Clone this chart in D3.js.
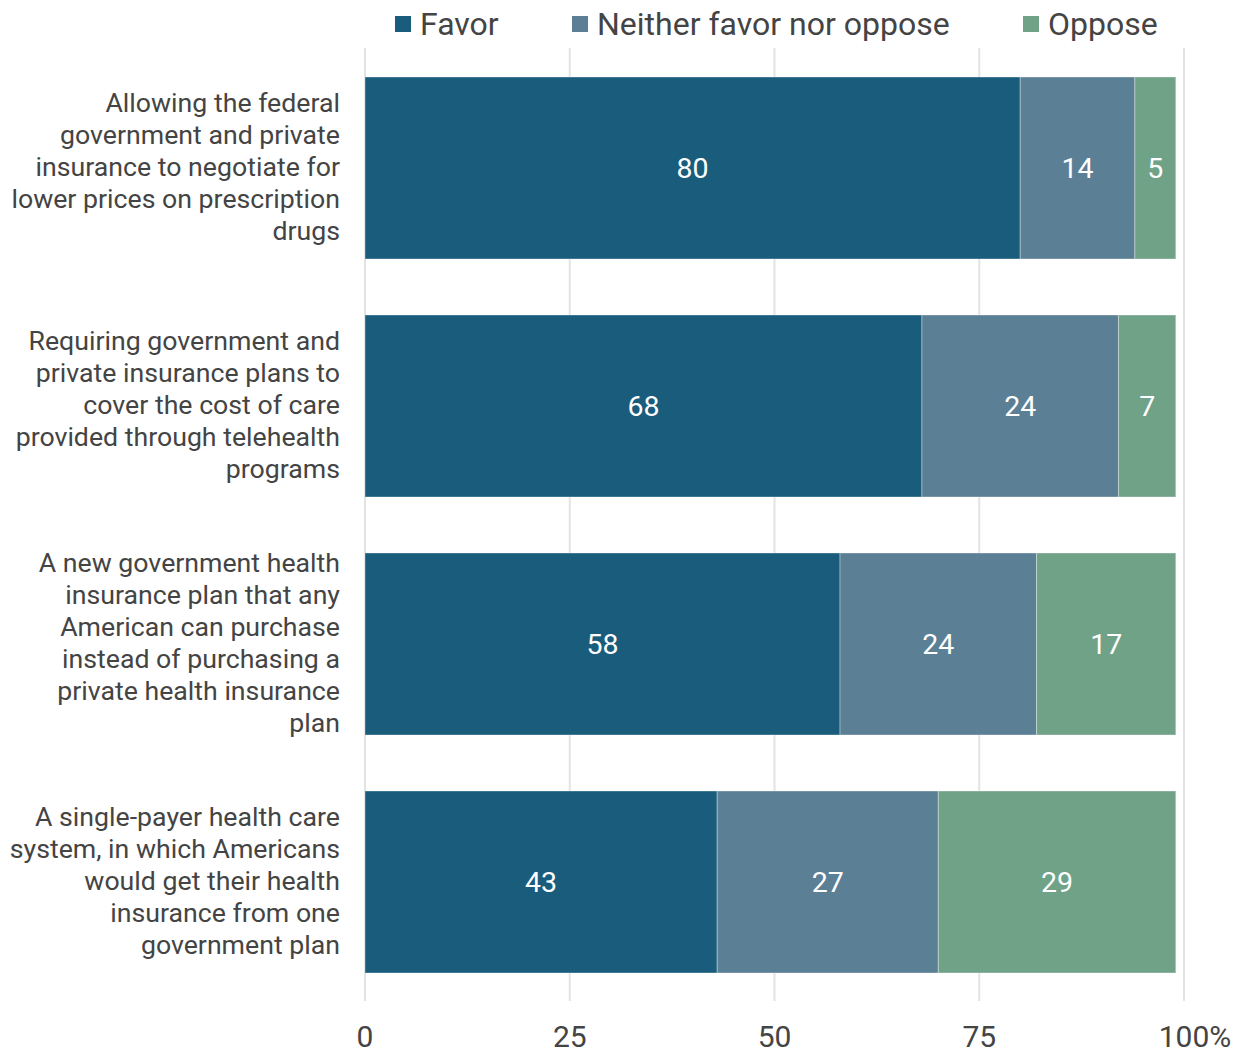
<!DOCTYPE html>
<html>
<head>
<meta charset="utf-8">
<script src="https://cdn.jsdelivr.net/npm/d3@7"></script>
<style>
  html, body { margin: 0; padding: 0; background: #fff; }
  svg { display: block; font-family: Roboto, "Noto Sans", sans-serif; }
</style>
</head>
<body>
<svg id="chart" width="1239" height="1053"></svg>
<script>
// Survey items, each as wrapped lines of its label
const categories = [
  ["Allowing the federal", "government and private", "insurance to negotiate for", "lower prices on prescription", "drugs"],
  ["Requiring government and", "private insurance plans to", "cover the cost of care", "provided through telehealth", "programs"],
  ["A new government health", "insurance plan that any", "American can purchase", "instead of purchasing a", "private health insurance", "plan"],
  ["A single-payer health care", "system, in which Americans", "would get their health", "insurance from one", "government plan"]
];
const seriesNames = ["Favor", "Neither favor nor oppose", "Oppose"];
const favor   = [80, 68, 58, 43];
const neither = [14, 24, 24, 27];
const oppose  = [5, 7, 17, 29];
const tickValues = [0, 25, 50, 75, 100];

const colors = ["#1a5c7c", "#5b7f95", "#70a287"];

const svg = d3.select("#chart");

const plotTop = 49, plotBottom = 1001;
const x = d3.scaleLinear().domain([0, 100]).range([365, 1184]);
const y = d3.scaleBand()
  .domain(d3.range(categories.length))
  .range([plotTop, plotBottom])
  .paddingInner(0.2353)
  .paddingOuter(0.11765);

// Gridlines
svg.append("g").selectAll("line")
  .data(tickValues)
  .join("line")
  .attr("x1", d => x(d)).attr("x2", d => x(d))
  .attr("y1", plotTop - 1).attr("y2", plotBottom)
  .attr("stroke", "#e3e3e3")
  .attr("stroke-width", 2);

// Stacked bars
const rows = categories.map((c, i) => ({ i, Favor: favor[i], "Neither favor nor oppose": neither[i], Oppose: oppose[i] }));
const stack = d3.stack().keys(seriesNames)(rows);
const bandCenter = i => y(i) + y.bandwidth() / 2;

stack.forEach((layer, k) => {
  const g = svg.append("g");
  g.selectAll("rect")
    .data(layer)
    .join("rect")
    .attr("x", d => x(d[0]))
    .attr("width", d => x(d[1]) - x(d[0]))
    .attr("y", d => y(d.data.i))
    .attr("height", y.bandwidth())
    .attr("fill", colors[k])
    .attr("stroke", "#ffffff")
    .attr("stroke-opacity", 0.35)
    .attr("stroke-width", 1);
  g.selectAll("text")
    .data(layer)
    .join("text")
    .attr("x", d => (x(d[0]) + x(d[1])) / 2)
    .attr("y", d => bandCenter(d.data.i))
    .attr("dy", "0.36em")
    .attr("text-anchor", "middle")
    .attr("fill", "#ffffff")
    .attr("font-size", 28.5)
    .text(d => d[1] - d[0]);
});

// Category labels, right-aligned to the left of the bars
const lineH = 32;
categories.forEach((lines, i) => {
  const cy = bandCenter(i) - 1;
  const t = svg.append("text")
    .attr("text-anchor", "end")
    .attr("fill", "#444")
    .attr("font-size", 26.7);
  lines.forEach((ln, j) => {
    t.append("tspan")
      .attr("x", 340)
      .attr("y", cy + (j - (lines.length - 1) / 2) * lineH)
      .attr("dy", "0.33em")
      .text(ln);
  });
});

// X axis tick labels; the percent sign trails the last number
const axis = svg.append("g");
tickValues.forEach((v, i) => {
  const t = axis.append("text")
    .attr("x", x(v))
    .attr("y", 1036)
    .attr("dy", "0.36em")
    .attr("text-anchor", "middle")
    .attr("fill", "#444")
    .attr("font-size", 30)
    .text(v);
  if (i === tickValues.length - 1) {
    const w = t.node().getComputedTextLength();
    axis.append("text")
      .attr("x", x(v) + w / 2)
      .attr("y", 1036)
      .attr("dy", "0.36em")
      .attr("fill", "#444")
      .attr("font-size", 30)
      .text("%");
  }
});

// Legend
const legendX = [395, 572, 1023];
const legend = svg.append("g");
seriesNames.forEach((name, k) => {
  legend.append("rect")
    .attr("x", legendX[k]).attr("y", 16)
    .attr("width", 16).attr("height", 16)
    .attr("fill", colors[k]);
  legend.append("text")
    .attr("x", legendX[k] + 25)
    .attr("y", 23)
    .attr("dy", "0.36em")
    .attr("fill", "#444")
    .attr("font-size", 32)
    .text(name);
});
</script>
</body>
</html>
